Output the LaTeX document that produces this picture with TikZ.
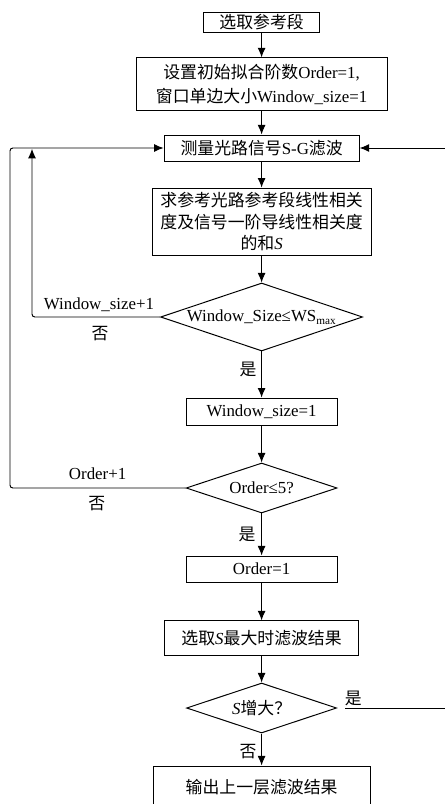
\documentclass[tikz,border=0pt]{standalone}
\usepackage{fontspec}
\setmainfont{Liberation Serif}
\newfontfamily\cjk{Noto Sans CJK SC}
\usetikzlibrary{shapes.geometric,arrows.meta}

\begin{document}
\begin{tikzpicture}[>={Latex[length=2.4mm,width=2mm]}, line width=.7pt,
	font=\fontsize{12pt}{14.5pt}\selectfont,
	box/.style={draw, inner sep=0pt, align=center},
	dec/.style={draw, diamond, inner sep=0pt, aspect=3}]
	\useasboundingbox (0,0) rectangle (11.125,-20.1);
	% boxes and tests, top to bottom
	\node [box, minimum width=2.9cm, minimum height=.5cm] (b1) at (6.54,-.55) {\cjk 选取参考段};
	\node [box, minimum width=6.275cm, minimum height=1.325cm] (b2) at (6.54,-2.11)
		{{\cjk 设置初始拟合阶数}Order=1,\\[3pt] {\cjk 窗口单边大小}Window\_size=1};
	\node [box, minimum width=4.875cm, minimum height=.65cm] (b3) at (6.54,-3.7) {{\cjk 测量光路信号}S-G{\cjk 滤波}};
	\node [box, minimum width=5.475cm, minimum height=1.675cm] (b4) at (6.54,-5.54)
		{{\cjk 求参考光路参考段线性相关}\\[1pt] {\cjk 度及信号一阶导线性相关度}\\[1pt] {\cjk 的和}\textit{S}};
	\node [dec, minimum width=5.05cm, minimum height=1.7cm] (d1) at (6.54,-7.925)
		{\makebox[2cm]{Window\_Size≤WS\textsubscript{max}}};
	\node [box, minimum width=3.775cm, minimum height=.675cm] (b5) at (6.54,-10.29) {Window\_size=1};
	\node [dec, minimum width=3.775cm, minimum height=1.25cm] (d2) at (6.54,-12.2) {\makebox[1.5cm]{Order≤5?}};
	\node [box, minimum width=3.775cm, minimum height=.65cm] (b6) at (6.54,-14.225) {Order=1};
	\node [box, minimum width=4.85cm, minimum height=.875cm] (b7) at (6.54,-15.96) {{\cjk 选取}\textit{S}{\cjk 最大时滤波结果}};
	\node [dec, minimum width=3.75cm, minimum height=1.25cm] (d3) at (6.54,-17.7) {\makebox[1.2cm]{\textit{S}{\cjk 增大？}}};
	\node [box, minimum width=5.425cm, minimum height=1.05cm] (b8) at (6.54,-19.675) {\cjk 输出上一层滤波结果};
	% loop ends
	\coordinate (in1) at (.8,-3.72);
	\coordinate (in2) at (.25,-3.7);
	\coordinate (out3) at (11.3,-17.7);
	\draw [->] (b1)--(b2);
	\draw [->] (b2)--(b3);
	\draw [->] (b3)--(b4);
	\draw [->] (b4)--(d1);
	\draw [->] (d1)--(b5);
	\draw [->] (b5)--(d2);
	\draw [->] (d2)--(b6);
	\draw [->] (b6)--(b7);
	\draw [->] (b7)--(d3);
	\draw [->] (d3)--(b8);
	\draw [->,rounded corners=2pt] (d1.west) -| (in1);
	\draw [->,rounded corners=2pt] (d2.west) -| (in2) -- (b3.west);
	\draw [->] ([xshift=.2cm]d3.east) -- (out3) |- (b3.east);
	\path
	(2.475,-7.625) node (l1) {Window\_size+1}
	(2.5,-8.35) node (n1) {\cjk 否}
	(6.2,-9.225) node (y1) {\cjk 是}
	(2.44,-11.85) node (l2) {Order+1}
	(2.42,-12.6) node (n2) {\cjk 否}
	(6.175,-13.35) node (y2) {\cjk 是}
	(8.83,-17.45) node (y3) {\cjk 是}
	(6.2,-18.8) node (n3) {\cjk 否}
	;
\end{tikzpicture}
\end{document}
